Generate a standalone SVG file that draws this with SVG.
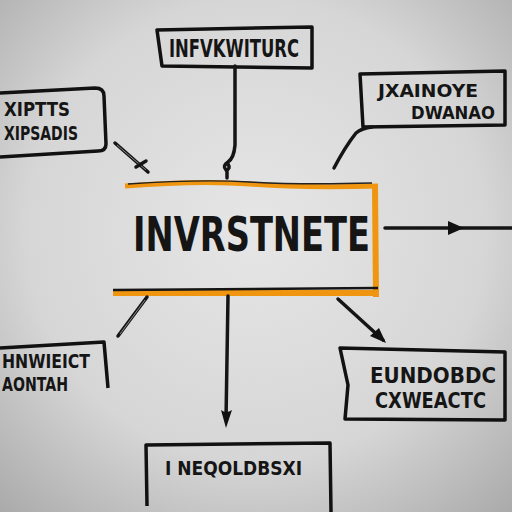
<svg xmlns="http://www.w3.org/2000/svg" width="512" height="512" viewBox="0 0 512 512">
<defs>
<radialGradient id="bg" cx="50%" cy="45%" r="75%">
<stop offset="0" stop-color="#e6e6e6"/>
<stop offset="0.6" stop-color="#d6d6d6"/>
<stop offset="1" stop-color="#a9a9a9"/>
</radialGradient>
</defs>
<style>
.box{fill:none;stroke:#111;stroke-width:3.5;stroke-linejoin:round}
.t{font-family:"DejaVu Sans Condensed","Liberation Sans",Arial,sans-serif;font-weight:bold;fill:#151515}
.c{fill:none;stroke:#151515;stroke-width:3.5;stroke-linecap:round}
</style>
<rect width="512" height="512" fill="url(#bg)"/>

<g id="n-top">
<path class="box" d="M157,30 L312,27 L312,68 L162,66 Z"/>
<text class="t" x="234" y="57" font-size="24" text-anchor="middle" textLength="130" lengthAdjust="spacingAndGlyphs">INFVKWITURC</text>
</g>

<g id="n-topleft">
<path class="box" d="M0,93 L95,88 Q104,88 104,96 L106,144 Q106,151 98,151 L0,157"/>
<text class="t" x="4" y="116" font-size="19" textLength="66" lengthAdjust="spacingAndGlyphs">XIPTTS</text>
<text class="t" x="4" y="140" font-size="19" textLength="74" lengthAdjust="spacingAndGlyphs">XIPSADIS</text>
</g>

<g id="n-topright">
<path class="box" d="M360,74 L505,71 L505,125 L363,127 Z"/>
<text class="t" x="378" y="97" font-size="18" textLength="100" lengthAdjust="spacingAndGlyphs">JXAINOYE</text>
<text class="t" x="411" y="119" font-size="18" textLength="84" lengthAdjust="spacingAndGlyphs">DWANAO</text>
</g>

<g id="n-center">
<path d="M125,186 Q200,180 250,184 T378,186" fill="none" stroke="#f0950f" stroke-width="5"/>
<path d="M128,184 Q200,179 250,182 T372,183" fill="none" stroke="#222" stroke-width="1.5"/>
<path d="M375,186 L376,297" fill="none" stroke="#f0950f" stroke-width="6"/>
<path d="M113,293 L378,293" fill="none" stroke="#f0950f" stroke-width="6"/>
<path d="M113,290 L378,288" fill="none" stroke="#151515" stroke-width="2.5"/>
<text class="t" x="133" y="251" font-size="48" textLength="237" lengthAdjust="spacingAndGlyphs">INVRSTNETE</text>
</g>

<g id="n-bottomleft">
<path class="box" d="M0,348 L104,342 L108,388"/>
<text class="t" x="2" y="368" font-size="19" textLength="88" lengthAdjust="spacingAndGlyphs">HNWIEICT</text>
<text class="t" x="2" y="391" font-size="19" textLength="66" lengthAdjust="spacingAndGlyphs">AONTAH</text>
</g>

<g id="n-bottomright">
<path class="box" d="M340,348 L505,352 L505,420 L345,419 L348,385 Z"/>
<text class="t" x="370" y="383" font-size="21" textLength="126" lengthAdjust="spacingAndGlyphs">EUNDOBDC</text>
<text class="t" x="375" y="408" font-size="21" textLength="111" lengthAdjust="spacingAndGlyphs">CXWEACTC</text>
</g>

<g id="n-bottom">
<path class="box" d="M147,506 L146,445 L330,443 L331,512"/>
<text class="t" x="165" y="475" font-size="20" textLength="137" lengthAdjust="spacingAndGlyphs">I NEQOLDBSXI</text>
</g>

<g id="connectors">
<path class="c" d="M235,66 L235,145 Q234,158 228,162 Q222,166 226,170 Q231,169 228,164 M227,170 L227,178"/>
<path class="c" d="M115,143 L148,172" stroke-width="6"/>
<path d="M117,145 L146,170" stroke="#888" stroke-width="1"/>
<path class="c" d="M136,167 L146,161" stroke-width="2.5"/>
<path class="c" d="M372,127 Q362,128 356,133 Q345,147 334,168" stroke-width="4.5"/>
<path class="c" d="M385,228 L512,228"/>
<path d="M448,221 L464,228 L448,235 Z" fill="#111"/>
<path class="c" d="M228,296 L226,420"/>
<path d="M221,410 L226,428 L232,410 Q226,414 221,410 Z" fill="#111"/>
<path class="c" d="M147,297 L118,336" stroke-width="6"/>
<path d="M145,300 L120,334" stroke="#888" stroke-width="1"/>
<path class="c" d="M338,299 L383,340"/>
<path d="M370,336 L386,343 L379,328 Z" fill="#111"/>
</g>
</svg>
